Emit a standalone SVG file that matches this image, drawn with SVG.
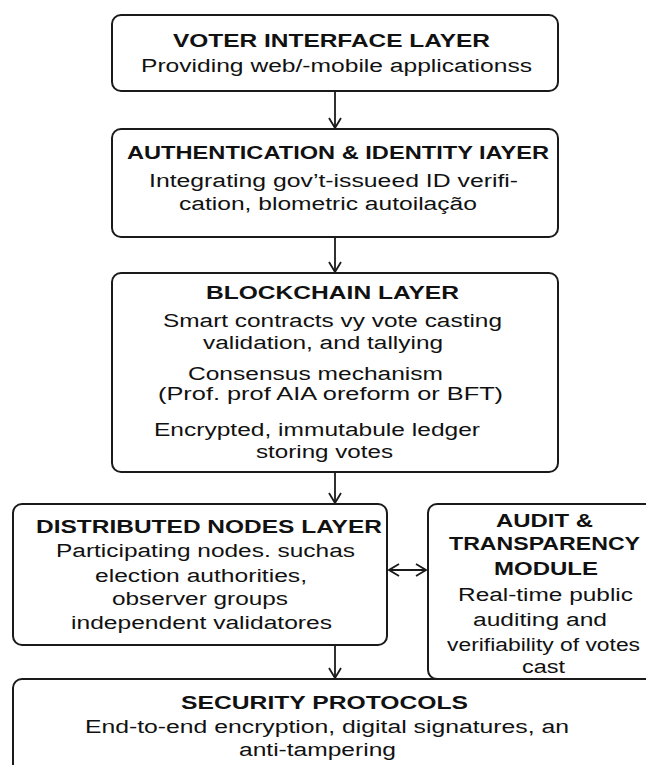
<svg xmlns="http://www.w3.org/2000/svg" width="646" height="765" viewBox="0 0 646 765">
<defs>
<style>
.box{fill:#fff;stroke:#1a1a1a;stroke-width:2}
.t{font-family:"Liberation Sans",Arial,sans-serif;font-size:19px;font-weight:bold;fill:#111}
.b{font-family:"Liberation Sans",Arial,sans-serif;font-size:19px;fill:#111}
.c{fill:none;stroke:#1a1a1a;stroke-width:1.8}
</style>
<marker id="ah" viewBox="0 0 12 14" refX="11" refY="7" markerWidth="12" markerHeight="14" markerUnits="userSpaceOnUse" orient="auto-start-reverse">
<path d="M1,1 L11,7 L1,13" fill="none" stroke="#1a1a1a" stroke-width="1.8"/>
</marker>
</defs>
<rect width="646" height="765" fill="#fff"/>
<g id="connectors">
<line class="c" x1="335" y1="91" x2="335" y2="128" marker-end="url(#ah)"/>
<line class="c" x1="335" y1="237" x2="335" y2="272" marker-end="url(#ah)"/>
<line class="c" x1="335" y1="472" x2="335" y2="503" marker-end="url(#ah)"/>
<line class="c" x1="335" y1="645" x2="335" y2="678" marker-end="url(#ah)"/>
<line class="c" x1="389" y1="570" x2="426" y2="570" marker-start="url(#ah)" marker-end="url(#ah)"/>
</g>
<g id="voter">
<rect class="box" x="112" y="15" width="446" height="76" rx="9"/>
<text class="t" transform="translate(173 0) scale(1.27 1)" y="47" textLength="249.6" lengthAdjust="spacingAndGlyphs">VOTER INTERFACE LAYER</text>
<text class="b" transform="translate(141 0) scale(1.27 1)" y="72" textLength="307.9" lengthAdjust="spacingAndGlyphs">Providing web/-mobile applicationss</text>
</g>
<g id="auth">
<rect class="box" x="112" y="129" width="446" height="108" rx="9"/>
<text class="t" transform="translate(127 0) scale(1.27 1)" y="159" textLength="332.3" lengthAdjust="spacingAndGlyphs">AUTHENTICATION &amp; IDENTITY IAYER</text>
<text class="b" transform="translate(149 0) scale(1.27 1)" y="187" textLength="290.6" lengthAdjust="spacingAndGlyphs">Integrating gov’t-issueed ID verifi-</text>
<text class="b" transform="translate(179 0) scale(1.27 1)" y="210" textLength="234.6" lengthAdjust="spacingAndGlyphs">cation, blometric autoilação</text>
</g>
<g id="blockchain">
<rect class="box" x="112" y="273" width="446" height="199" rx="9"/>
<text class="t" transform="translate(206 0) scale(1.27 1)" y="299" textLength="199.2" lengthAdjust="spacingAndGlyphs">BLOCKCHAIN LAYER</text>
<text class="b" transform="translate(163 0) scale(1.27 1)" y="327" textLength="266.9" lengthAdjust="spacingAndGlyphs">Smart contracts vy vote casting</text>
<text class="b" transform="translate(203 0) scale(1.27 1)" y="349" textLength="189.0" lengthAdjust="spacingAndGlyphs">validation, and tallying</text>
<text class="b" transform="translate(188 0) scale(1.27 1)" y="380" textLength="200.8" lengthAdjust="spacingAndGlyphs">Consensus mechanism</text>
<text class="b" transform="translate(158 0) scale(1.27 1)" y="400" textLength="271.7" lengthAdjust="spacingAndGlyphs">(Prof. prof AIA oreform or BFT)</text>
<text class="b" transform="translate(154 0) scale(1.27 1)" y="436" textLength="256.7" lengthAdjust="spacingAndGlyphs">Encrypted, immutabule ledger</text>
<text class="b" transform="translate(256 0) scale(1.27 1)" y="458" textLength="107.9" lengthAdjust="spacingAndGlyphs">storing votes</text>
</g>
<g id="distributed">
<rect class="box" x="13" y="504" width="374" height="141" rx="9"/>
<text class="t" transform="translate(36 0) scale(1.27 1)" y="533" textLength="272.4" lengthAdjust="spacingAndGlyphs">DISTRIBUTED NODES LAYER</text>
<text class="b" transform="translate(56 0) scale(1.27 1)" y="557" textLength="235.4" lengthAdjust="spacingAndGlyphs">Participating nodes. suchas</text>
<text class="b" transform="translate(95 0) scale(1.27 1)" y="582" textLength="166.9" lengthAdjust="spacingAndGlyphs">election authorities,</text>
<text class="b" transform="translate(112 0) scale(1.27 1)" y="605" textLength="138.6" lengthAdjust="spacingAndGlyphs">observer groups</text>
<text class="b" transform="translate(71 0) scale(1.27 1)" y="629" textLength="205.5" lengthAdjust="spacingAndGlyphs">independent validatores</text>
</g>
<g id="audit">
<rect class="box" x="428" y="504" width="240" height="175" rx="9"/>
<text class="t" transform="translate(496 0) scale(1.27 1)" y="527" textLength="76.4" lengthAdjust="spacingAndGlyphs">AUDIT &amp;</text>
<text class="t" transform="translate(449 0) scale(1.27 1)" y="550" textLength="150.4" lengthAdjust="spacingAndGlyphs">TRANSPARENCY</text>
<text class="t" transform="translate(494 0) scale(1.27 1)" y="575" textLength="81.9" lengthAdjust="spacingAndGlyphs">MODULE</text>
<text class="b" transform="translate(458 0) scale(1.27 1)" y="601" textLength="137.8" lengthAdjust="spacingAndGlyphs">Real-time public</text>
<text class="b" transform="translate(473 0) scale(1.27 1)" y="626" textLength="105.5" lengthAdjust="spacingAndGlyphs">auditing and</text>
<text class="b" transform="translate(447 0) scale(1.27 1)" y="651" textLength="152.0" lengthAdjust="spacingAndGlyphs">verifiability of votes</text>
<text class="b" transform="translate(522 0) scale(1.27 1)" y="673" textLength="33.9" lengthAdjust="spacingAndGlyphs">cast</text>
</g>
<g id="security">
<rect class="box" x="13" y="679" width="700" height="130" rx="9"/>
<text class="t" transform="translate(181 0) scale(1.27 1)" y="709" textLength="226.0" lengthAdjust="spacingAndGlyphs">SECURITY PROTOCOLS</text>
<text class="b" transform="translate(85 0) scale(1.27 1)" y="733" textLength="381.1" lengthAdjust="spacingAndGlyphs">End-to-end encryption, digital signatures, an</text>
<text class="b" transform="translate(239 0) scale(1.27 1)" y="756" textLength="123.6" lengthAdjust="spacingAndGlyphs">anti-tampering</text>
</g>
</svg>
